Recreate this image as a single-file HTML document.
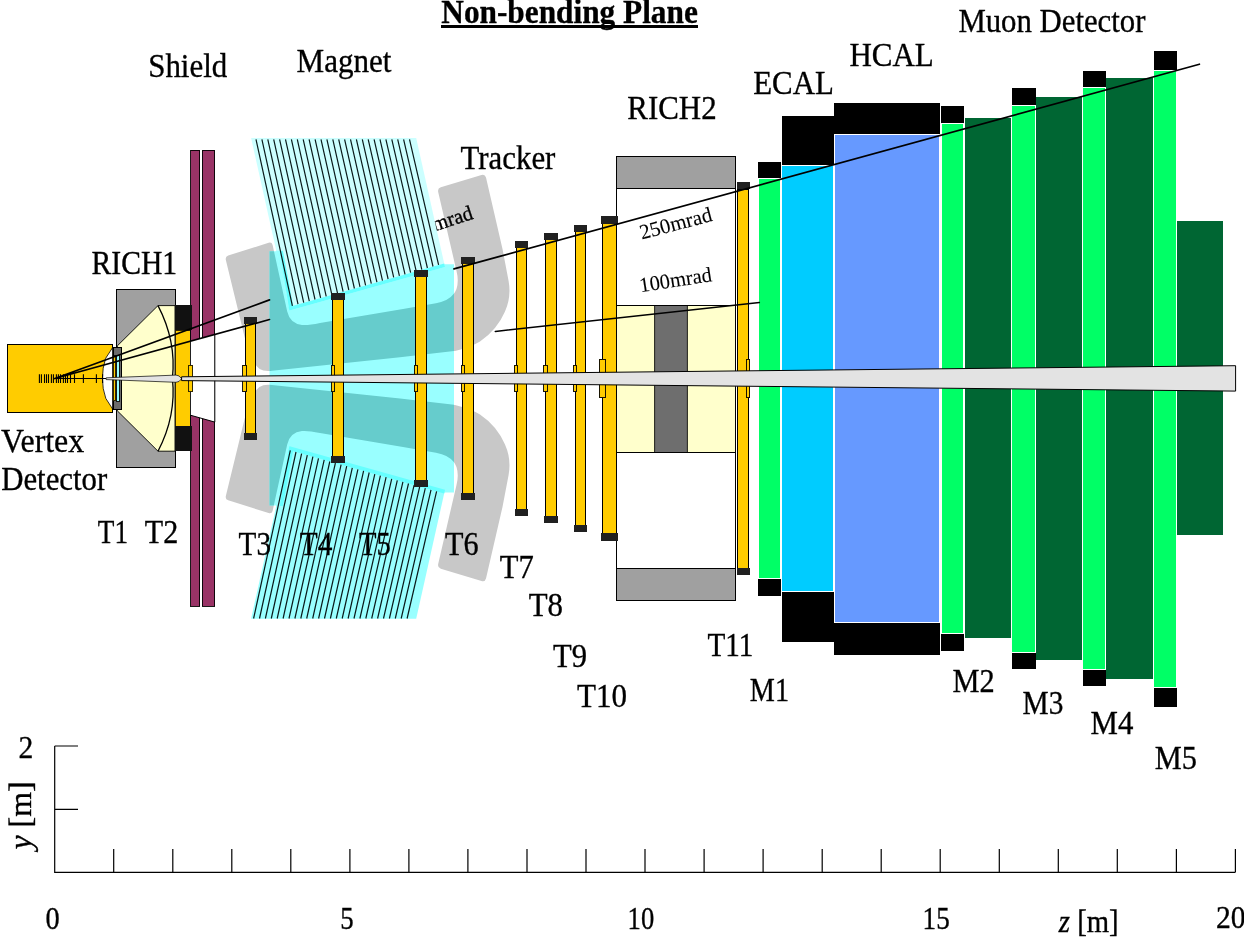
<!DOCTYPE html>
<html lang="en">
<head>
<meta charset="utf-8">
<title>Non-bending Plane</title>
<style>
html,body{margin:0;padding:0;background:#fff;}
body{width:1244px;height:938px;overflow:hidden;}
svg{display:block;font-family:"Liberation Serif",serif;fill:#000;}
svg text{fill:#000;stroke:#000;stroke-width:0.35px;}
svg rect{shape-rendering:crispEdges;}
</style>
</head>
<body>
<svg width="1244" height="938" viewBox="0 0 1244 938" shape-rendering="auto">
<rect x="0" y="0" width="1244" height="938" fill="#fff"/>
<g id="yokes" fill="#C8C8C8">
<path d="M228.2,255.6 L268.6,242.8 Q271.8,241.8 272.6,245 L287.2,311.5 Q290,323.6 302,324.9 Q308,325.5 320,323 L403,309 L436,303.2 Q452,300.5 456.5,289 Q459,281 456.5,271 L438.3,192.5 Q437.2,188.3 440.8,187.2 L481.5,174.9 Q485,173.9 486,177.5 L502.5,249 L508.6,281 Q511.5,297 505,311.5 Q497,330 480,341.5 Q470,347.5 455,351 L400,357.3 L272,370.8 Q258,372.6 254.5,362 L244.7,337.5 L225.9,260.2 Q225,256.6 228.2,255.6 Z"/>
<path d="M228.2,255.6 L268.6,242.8 Q271.8,241.8 272.6,245 L287.2,311.5 Q290,323.6 302,324.9 Q308,325.5 320,323 L403,309 L436,303.2 Q452,300.5 456.5,289 Q459,281 456.5,271 L438.3,192.5 Q437.2,188.3 440.8,187.2 L481.5,174.9 Q485,173.9 486,177.5 L502.5,249 L508.6,281 Q511.5,297 505,311.5 Q497,330 480,341.5 Q470,347.5 455,351 L400,357.3 L272,370.8 Q258,372.6 254.5,362 L244.7,337.5 L225.9,260.2 Q225,256.6 228.2,255.6 Z" transform="translate(0,755.9) scale(1,-1)"/>
</g>
<text id="mradHidden" transform="translate(405.6,240.8) rotate(-18)" font-size="21" textLength="72" lengthAdjust="spacingAndGlyphs">250mrad</text>
<defs><clipPath id="cyclip"><polygon points="269.5,251.3 292,251.3 440,264.3 454,264.3 454,492.5 440,492.5 292,505.5 269.5,505.5"/></clipPath></defs>
<polygon points="269.5,251.3 292,251.3 440,264.3 454,264.3 454,492.5 440,492.5 292,505.5 269.5,505.5" fill="#99FFFF"/>
<g clip-path="url(#cyclip)" fill="#66CCCC">
<path d="M228.2,255.6 L268.6,242.8 Q271.8,241.8 272.6,245 L287.2,311.5 Q290,323.6 302,324.9 Q308,325.5 320,323 L403,309 L436,303.2 Q452,300.5 456.5,289 Q459,281 456.5,271 L438.3,192.5 Q437.2,188.3 440.8,187.2 L481.5,174.9 Q485,173.9 486,177.5 L502.5,249 L508.6,281 Q511.5,297 505,311.5 Q497,330 480,341.5 Q470,347.5 455,351 L400,357.3 L272,370.8 Q258,372.6 254.5,362 L244.7,337.5 L225.9,260.2 Q225,256.6 228.2,255.6 Z"/>
<path d="M228.2,255.6 L268.6,242.8 Q271.8,241.8 272.6,245 L287.2,311.5 Q290,323.6 302,324.9 Q308,325.5 320,323 L403,309 L436,303.2 Q452,300.5 456.5,289 Q459,281 456.5,271 L438.3,192.5 Q437.2,188.3 440.8,187.2 L481.5,174.9 Q485,173.9 486,177.5 L502.5,249 L508.6,281 Q511.5,297 505,311.5 Q497,330 480,341.5 Q470,347.5 455,351 L400,357.3 L272,370.8 Q258,372.6 254.5,362 L244.7,337.5 L225.9,260.2 Q225,256.6 228.2,255.6 Z" transform="translate(0,755.9) scale(1,-1)"/>
</g>
<polygon points="251.1,138.1 416.2,138.1 445.0,267.0 289.6,310.5" fill="#CCFFFF"/>
<polygon points="289.6,310.5 445.0,267.0 444.2,263.4 288.8,306.9" fill="#66FFFF"/>
<polygon points="276.0,250.7 279.7,250.7 288.9,308.3 289.2,309.5" fill="#99FFFF"/>
<polygon points="279.7,250.7 282.9,250.7 293.2,306.0 289.6,310.5 288.9,308.3" fill="#66FFFF"/>
<path d="M256.0,139.3L292.4,305.8M261.9,139.3L298.0,304.2M267.8,139.3L303.7,302.7M273.7,139.3L309.3,301.1M279.6,139.3L315.0,299.5M285.5,139.3L320.6,297.9M291.4,139.3L326.2,296.3M297.3,139.3L331.9,294.8M303.2,139.3L337.5,293.2M309.1,139.3L343.1,291.6M315.1,139.3L348.8,290.0M321.0,139.3L354.4,288.5M326.9,139.3L360.0,286.9M332.8,139.3L365.6,285.3M338.7,139.3L371.3,283.7M344.6,139.3L376.9,282.2M350.5,139.3L382.5,280.6M356.4,139.3L388.1,279.0M362.3,139.3L393.7,277.4M368.2,139.3L399.4,275.9M374.1,139.3L405.0,274.3M380.0,139.3L410.6,272.7M385.9,139.3L416.2,271.2M391.8,139.3L421.8,269.6M397.7,139.3L427.4,268.0M403.6,139.3L433.0,266.5M409.5,139.3L438.6,264.9" stroke="#0a1a1a" stroke-width="1.2" fill="none"/>
<polygon points="251.1,618.7 416.2,618.7 445.0,489.8 289.6,446.3" fill="#99FFFF"/>
<polygon points="289.6,446.3 445.0,489.8 444.2,493.4 288.8,449.9" fill="#66FFFF"/>
<polygon points="276.0,506.1 279.7,506.1 288.9,448.5 289.2,447.3" fill="#99FFFF"/>
<polygon points="279.7,506.1 282.9,506.1 293.2,450.8 289.6,446.3 288.9,448.5" fill="#66FFFF"/>
<path d="M253.6,618.5L290.3,450.4M259.5,618.5L296.0,452.0M265.4,618.5L301.6,453.6M271.3,618.5L307.3,455.1M277.2,618.5L312.9,456.7M283.1,618.5L318.5,458.3M289.0,618.5L324.2,459.9M294.9,618.5L329.8,461.5M300.8,618.5L335.4,463.0M306.7,618.5L341.1,464.6M312.7,618.5L346.7,466.2M318.6,618.5L352.3,467.8M324.5,618.5L357.9,469.3M330.4,618.5L363.6,470.9M336.3,618.5L369.2,472.5M342.2,618.5L374.8,474.1M348.1,618.5L380.4,475.6M354.0,618.5L386.1,477.2M359.9,618.5L391.7,478.8M365.8,618.5L397.3,480.3M371.7,618.5L402.9,481.9M377.6,618.5L408.5,483.5M383.5,618.5L414.1,485.1M389.4,618.5L419.7,486.6M395.3,618.5L425.3,488.2M401.2,618.5L431.0,489.8M407.1,618.5L436.6,491.3" stroke="#0a1a1a" stroke-width="1.2" fill="none"/>
<rect x="7.50" y="344.30" width="105.10" height="68.20" fill="#FFCC00" stroke="#000" stroke-width="1" />
<path d="M112.6,347.6 L105.6,358.4 Q102.4,368 102.4,378.4 Q102.4,389 105.8,398.4 L112.6,409 Z" fill="#fff" stroke="#000" stroke-width="0.8"/>
<path d="M54,378.5H106M39.4,374.2V382.9M41.4,374.2V382.9M44.5,374.2V382.9M46.5,374.2V382.9M48.5,374.2V382.9M51.4,374.2V382.9M53.4,374.2V382.9M56.4,374.2V382.9M58.4,374.2V382.9M60.5,374.2V382.9M63.4,374.2V382.9M65.5,374.2V382.9M67.5,374.2V382.9M70.5,374.2V382.9M74.5,374.2V382.9M83.4,374.2V382.9M96.4,374.2V382.9M102.6,374.2V382.9" stroke="#000" stroke-width="1.1" fill="none"/>
<rect x="116.50" y="289.40" width="59.10" height="178.00" fill="#A0A0A0" stroke="#000" stroke-width="1" />
<polygon points="117.3,345.9 158,305.6 175,305.6 175,451.2 158,451.2 117.3,410.8" fill="#FFFFCC" stroke="#000" stroke-width="0.9"/>
<path d="M158,305.6 Q176.5,341 172.4,378.4 Q176.5,416 158,451.2" fill="none" stroke="#000" stroke-width="1.3"/>
<rect x="113.40" y="347.30" width="8.10" height="62.10" fill="#6B6B6B" stroke="#000" stroke-width="1" />
<rect x="113.30" y="355.80" width="2.30" height="44.80" fill="#FFCC00" stroke="#000" stroke-width="0.8" />
<rect x="116.90" y="355.60" width="2.50" height="45.60" fill="#99FFFF" stroke="#000" stroke-width="0.8" />
<rect x="190.80" y="150.30" width="8.80" height="456.10" fill="#993366" stroke="#000" stroke-width="0.9" />
<rect x="202.40" y="150.30" width="12.30" height="456.10" fill="#993366" stroke="#000" stroke-width="0.9" />
<polygon points="190.4,341.3 214.8,334.6 214.8,422.1 190.4,415.2" fill="#fff"/>
<path d="M214.8,334.6V422.1L190.4,415.2" fill="none" stroke="#000" stroke-width="1"/>
<rect x="175.20" y="330.00" width="15.10" height="96.60" fill="#FFCC00" stroke="#000" stroke-width="0.8" />
<rect x="174.80" y="305.20" width="16.80" height="25.10" fill="#111" />
<rect x="174.80" y="426.40" width="16.80" height="25.00" fill="#111" />
<rect x="188.50" y="365.30" width="4.10" height="26.30" fill="#FFCC00" stroke="#000" stroke-width="0.8" />
<rect x="616.40" y="156.30" width="119.20" height="444.00" fill="#fff" stroke="#000" stroke-width="1" />
<rect x="616.40" y="156.30" width="119.20" height="31.70" fill="#A0A0A0" stroke="#000" stroke-width="1" />
<rect x="616.40" y="568.60" width="119.20" height="31.70" fill="#A0A0A0" stroke="#000" stroke-width="1" />
<rect x="616.40" y="305.20" width="119.20" height="147.00" fill="#FFFFCC" stroke="#000" stroke-width="1" />
<rect x="654.60" y="305.70" width="32.80" height="146.00" fill="#6E6E6E" />
<path d="M654.6,305.2V452.2M687.4,305.2V452.2" stroke="#000" stroke-width="0.9"/>
<rect x="245.40" y="318.20" width="10.20" height="120.40" fill="#FFCC00" stroke="#000" stroke-width="1" />
<rect x="243.90" y="317.20" width="13.20" height="7.00" fill="#202020" />
<rect x="243.90" y="432.60" width="13.20" height="7.00" fill="#202020" />
<rect x="242.70" y="365.10" width="3.70" height="26.60" fill="#FFCC00" stroke="#000" stroke-width="0.9" />
<rect x="332.50" y="294.40" width="11.00" height="168.00" fill="#FFCC00" stroke="#000" stroke-width="1" />
<rect x="331.00" y="293.40" width="14.00" height="7.00" fill="#202020" />
<rect x="331.00" y="456.40" width="14.00" height="7.00" fill="#202020" />
<rect x="331.30" y="365.10" width="3.00" height="26.60" fill="#FFCC00" stroke="#000" stroke-width="0.9" />
<rect x="415.30" y="271.30" width="11.30" height="214.20" fill="#FFCC00" stroke="#000" stroke-width="1" />
<rect x="413.80" y="270.30" width="14.30" height="7.00" fill="#202020" />
<rect x="413.80" y="479.50" width="14.30" height="7.00" fill="#202020" />
<rect x="414.00" y="365.10" width="3.20" height="26.60" fill="#FFCC00" stroke="#000" stroke-width="0.9" />
<rect x="462.40" y="258.30" width="11.20" height="240.20" fill="#FFCC00" stroke="#000" stroke-width="1" />
<rect x="460.90" y="257.30" width="14.20" height="7.00" fill="#202020" />
<rect x="460.90" y="492.50" width="14.20" height="7.00" fill="#202020" />
<rect x="461.20" y="365.10" width="3.60" height="26.60" fill="#FFCC00" stroke="#000" stroke-width="0.9" />
<rect x="516.20" y="242.30" width="10.50" height="272.20" fill="#FFCC00" stroke="#000" stroke-width="1" />
<rect x="514.70" y="241.30" width="13.50" height="7.00" fill="#202020" />
<rect x="514.70" y="508.50" width="13.50" height="7.00" fill="#202020" />
<rect x="514.30" y="365.10" width="3.40" height="26.60" fill="#FFCC00" stroke="#000" stroke-width="0.9" />
<rect x="545.40" y="234.40" width="11.20" height="288.00" fill="#FFCC00" stroke="#000" stroke-width="1" />
<rect x="543.90" y="233.40" width="14.20" height="7.00" fill="#202020" />
<rect x="543.90" y="516.40" width="14.20" height="7.00" fill="#202020" />
<rect x="543.20" y="365.10" width="4.60" height="26.60" fill="#FFCC00" stroke="#000" stroke-width="0.9" />
<rect x="575.20" y="226.30" width="10.60" height="304.20" fill="#FFCC00" stroke="#000" stroke-width="1" />
<rect x="573.70" y="225.30" width="13.60" height="7.00" fill="#202020" />
<rect x="573.70" y="524.50" width="13.60" height="7.00" fill="#202020" />
<rect x="573.20" y="365.10" width="3.60" height="26.60" fill="#FFCC00" stroke="#000" stroke-width="0.9" />
<rect x="602.50" y="217.00" width="13.90" height="322.80" fill="#FFCC00" stroke="#000" stroke-width="1" />
<rect x="601.00" y="216.00" width="16.90" height="7.60" fill="#202020" />
<rect x="601.00" y="533.20" width="16.90" height="7.60" fill="#202020" />
<rect x="599.30" y="359.10" width="6.50" height="38.60" fill="#FFCC00" stroke="#000" stroke-width="0.9" />
<rect x="737.70" y="189.00" width="10.90" height="379.00" fill="#FFCC00" stroke="#000" stroke-width="1" />
<rect x="736.60" y="182.00" width="13.40" height="7.00" fill="#202020" />
<rect x="736.60" y="567.80" width="13.40" height="7.20" fill="#202020" />
<rect x="746.40" y="359.40" width="3.30" height="38.10" fill="#FFCC00" stroke="#000" stroke-width="0.9" />
<rect x="965.00" y="117.70" width="46.00" height="520.70" fill="#006633" />
<rect x="1036.00" y="96.70" width="46.00" height="563.00" fill="#006633" />
<rect x="1106.00" y="77.70" width="47.00" height="601.10" fill="#006633" />
<rect x="1177.00" y="220.70" width="46.00" height="314.60" fill="#006633" />
<rect x="781.50" y="116.00" width="52.50" height="525.60" fill="#000" />
<rect x="834.00" y="102.80" width="106.00" height="551.90" fill="#000" />
<rect x="781.00" y="165.00" width="53.50" height="427.00" fill="#fff" />
<rect x="834.00" y="134.00" width="107.00" height="489.00" fill="#fff" />
<rect x="782.00" y="165.80" width="51.00" height="425.40" fill="#00CCFF" />
<rect x="835.00" y="135.00" width="104.00" height="487.00" fill="#6699FF" />
<rect x="759.00" y="178.60" width="21.00" height="399.20" fill="#00FF66" />
<rect x="942.00" y="123.80" width="21.00" height="509.00" fill="#00FF66" />
<rect x="1012.00" y="106.00" width="23.00" height="545.60" fill="#00FF66" />
<rect x="1083.00" y="87.80" width="22.00" height="581.20" fill="#00FF66" />
<rect x="1154.00" y="71.00" width="22.00" height="616.20" fill="#00FF66" />
<rect x="757.50" y="161.50" width="24.00" height="17.00" fill="#fff" />
<rect x="758.00" y="162.00" width="23.00" height="16.00" fill="#000" />
<rect x="757.50" y="578.50" width="24.00" height="18.00" fill="#fff" />
<rect x="758.00" y="579.00" width="23.00" height="17.00" fill="#000" />
<rect x="940.50" y="105.50" width="24.00" height="18.00" fill="#fff" />
<rect x="941.00" y="106.00" width="23.00" height="17.00" fill="#000" />
<rect x="940.50" y="633.50" width="24.00" height="18.00" fill="#fff" />
<rect x="941.00" y="634.00" width="23.00" height="17.00" fill="#000" />
<rect x="1011.00" y="87.50" width="25.00" height="18.00" fill="#fff" />
<rect x="1011.50" y="88.00" width="24.00" height="17.00" fill="#000" />
<rect x="1011.00" y="652.30" width="25.00" height="17.00" fill="#fff" />
<rect x="1011.50" y="652.80" width="24.00" height="16.00" fill="#000" />
<rect x="1082.00" y="70.30" width="24.00" height="17.00" fill="#fff" />
<rect x="1082.50" y="70.80" width="23.00" height="16.00" fill="#000" />
<rect x="1082.00" y="669.50" width="24.00" height="17.00" fill="#fff" />
<rect x="1082.50" y="670.00" width="23.00" height="16.00" fill="#000" />
<rect x="1153.00" y="50.50" width="24.00" height="20.00" fill="#fff" />
<rect x="1153.50" y="51.00" width="23.00" height="19.00" fill="#000" />
<rect x="1153.00" y="687.50" width="24.00" height="20.00" fill="#fff" />
<rect x="1153.50" y="688.00" width="23.00" height="19.00" fill="#000" />
<path d="M54.8,378.5L269.5,299.9M54.8,378.5L269.5,319.5M454,268.9L1199.4,64.2" stroke="#000" stroke-width="1.7" fill="none" stroke-linecap="round"/>
<path d="M495.3,331.4L759.4,302.5" stroke="#000" stroke-width="1.5" fill="none" stroke-linecap="round"/>
<path d="M106.2,377.8 L176,375.1 Q179.2,375.0 181.6,378.7 Q179.2,382.4 176,382.3 L106.2,379.6 Z" fill="#E3E3E3" stroke="#000" stroke-width="0.7"/>
<path d="M181.6,376.8 L1235.6,365.7 L1235.6,391.1 L181.6,380.6 Z" fill="#E3E3E3" stroke="#000" stroke-width="1"/>
<path d="M54.7,746V872.3H1235.4M54.7,746H78M54.7,809.4H78M113.7,849V872.3M172.8,849V872.3M231.8,849V872.3M290.8,849V872.3M349.9,849V872.3M408.9,849V872.3M467.9,849V872.3M527.0,849V872.3M586.0,849V872.3M645.0,849V872.3M704.1,849V872.3M763.1,849V872.3M822.2,849V872.3M881.2,849V872.3M940.2,849V872.3M999.3,849V872.3M1058.3,849V872.3M1117.3,849V872.3M1176.4,849V872.3M1235.4,849V872.3" stroke="#000" stroke-width="1.2" fill="none"/>
<text x="441.3" y="22.5" font-size="33.5" font-weight="bold" textLength="256.5" lengthAdjust="spacingAndGlyphs">Non-bending Plane</text>
<rect x="441.30" y="25.20" width="256.50" height="2.70" fill="#000" />
<text x="148.2" y="76.6" font-size="33.5" textLength="79.0" lengthAdjust="spacingAndGlyphs" >Shield</text>
<text x="296.6" y="72.3" font-size="33.5" textLength="94.8" lengthAdjust="spacingAndGlyphs" >Magnet</text>
<text x="91.6" y="274.1" font-size="33.5" textLength="85.6" lengthAdjust="spacingAndGlyphs" >RICH1</text>
<text x="460.6" y="168.7" font-size="33.5" textLength="94.8" lengthAdjust="spacingAndGlyphs" >Tracker</text>
<text x="627.3" y="118.9" font-size="33.5" textLength="89.3" lengthAdjust="spacingAndGlyphs" >RICH2</text>
<text x="753.2" y="94.2" font-size="33.5" textLength="80.6" lengthAdjust="spacingAndGlyphs" >ECAL</text>
<text x="849.4" y="65.8" font-size="33.5" textLength="84.4" lengthAdjust="spacingAndGlyphs" >HCAL</text>
<text x="958.4" y="31.7" font-size="33.5" textLength="187.0" lengthAdjust="spacingAndGlyphs" >Muon Detector</text>
<text x="1.0" y="452.4" font-size="33.5" textLength="83.2" lengthAdjust="spacingAndGlyphs" >Vertex</text>
<text x="1.2" y="489.5" font-size="33.5" textLength="106.0" lengthAdjust="spacingAndGlyphs" >Detector</text>
<text x="97.8" y="542.7" font-size="33.5" textLength="30.2" lengthAdjust="spacingAndGlyphs" >T1</text>
<text x="144.8" y="542.7" font-size="33.5" textLength="33.4" lengthAdjust="spacingAndGlyphs" >T2</text>
<text x="238.6" y="554.5" font-size="33.5" textLength="32.4" lengthAdjust="spacingAndGlyphs" >T3</text>
<text x="299.8" y="554.5" font-size="33.5" textLength="32.6" lengthAdjust="spacingAndGlyphs" >T4</text>
<text x="359.0" y="554.5" font-size="33.5" textLength="31.8" lengthAdjust="spacingAndGlyphs" >T5</text>
<text x="445.0" y="554.5" font-size="33.5" textLength="33.6" lengthAdjust="spacingAndGlyphs" >T6</text>
<text x="499.8" y="577.8" font-size="33.5" textLength="34.0" lengthAdjust="spacingAndGlyphs" >T7</text>
<text x="528.7" y="615.9" font-size="33.5" textLength="34.3" lengthAdjust="spacingAndGlyphs" >T8</text>
<text x="553.0" y="666.8" font-size="33.5" textLength="34.0" lengthAdjust="spacingAndGlyphs" >T9</text>
<text x="577.0" y="707.2" font-size="33.5" textLength="50.0" lengthAdjust="spacingAndGlyphs" >T10</text>
<text x="707.5" y="655.8" font-size="33.5" textLength="45.9" lengthAdjust="spacingAndGlyphs" >T11</text>
<text x="749.8" y="700.8" font-size="33.5" textLength="39.2" lengthAdjust="spacingAndGlyphs" >M1</text>
<text x="952.4" y="692.0" font-size="33.5" textLength="42.2" lengthAdjust="spacingAndGlyphs" >M2</text>
<text x="1022.6" y="713.5" font-size="33.5" textLength="40.8" lengthAdjust="spacingAndGlyphs" >M3</text>
<text x="1090.5" y="733.8" font-size="33.5" textLength="42.8" lengthAdjust="spacingAndGlyphs" >M4</text>
<text x="1154.7" y="768.5" font-size="33.5" textLength="42.2" lengthAdjust="spacingAndGlyphs" >M5</text>
<text transform="translate(641.7,239.6) rotate(-14.8)" font-size="21" style="stroke-width:0.1px" textLength="74.1" lengthAdjust="spacingAndGlyphs">250mrad</text>
<text transform="translate(640.5,292.3) rotate(-8.8)" font-size="21" style="stroke-width:0.1px" textLength="73" lengthAdjust="spacingAndGlyphs">100mrad</text>
<text x="18.6" y="757.8" font-size="31.5" textLength="14.8" lengthAdjust="spacingAndGlyphs" >2</text>
<text transform="translate(30.6,849.6) rotate(-90)" font-size="31.5" textLength="68.2" lengthAdjust="spacingAndGlyphs"><tspan font-style="italic">y</tspan> [m]</text>
<text x="45.4" y="928.8" font-size="31.5" textLength="14.2" lengthAdjust="spacingAndGlyphs" >0</text>
<text x="340.2" y="928.8" font-size="31.5" textLength="13.4" lengthAdjust="spacingAndGlyphs" >5</text>
<text x="627.6" y="928.8" font-size="31.5" textLength="26.6" lengthAdjust="spacingAndGlyphs" >10</text>
<text x="922.6" y="928.8" font-size="31.5" textLength="27.1" lengthAdjust="spacingAndGlyphs" >15</text>
<text x="1058.8" y="931.6" font-size="31.5" textLength="59.8" lengthAdjust="spacingAndGlyphs"><tspan font-style="italic">z</tspan> [m]</text>
<text x="1216.0" y="928.2" font-size="31.5" textLength="29.6" lengthAdjust="spacingAndGlyphs" >20</text>
</svg>
</body>
</html>
